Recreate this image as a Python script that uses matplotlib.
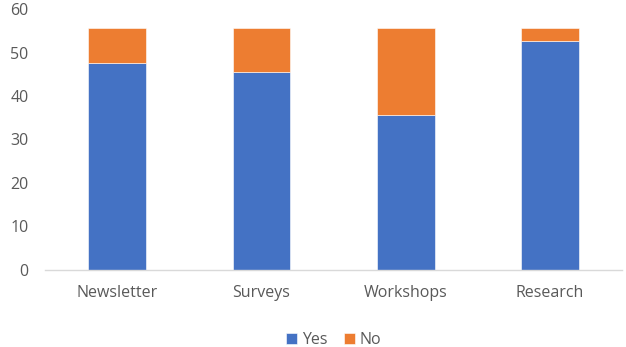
import matplotlib
matplotlib.use('Agg')
import matplotlib.pyplot as plt
import numpy as np

plt.rcParams['font.family'] = ['Open Sans', 'DejaVu Sans']

categories = ['Newsletter', 'Surveys', 'Workshops', 'Research']
yes_vals = [47.6, 45.6, 35.6, 52.6]
no_vals = [8.0, 10.0, 20.0, 3.0]

blue = '#4472C4'
orange = '#ED7D31'
text_col = '#595959'

fig = plt.figure(figsize=(6.26, 3.47), dpi=100)
ax = fig.add_axes([0.072, 0.222, 0.922, 0.752])

x = np.arange(len(categories))
ax.bar(x, yes_vals, width=0.4, color=blue, label='Yes', edgecolor='white', linewidth=0.4)
ax.bar(x, no_vals, width=0.4, bottom=yes_vals, color=orange, label='No',
       edgecolor='white', linewidth=0.4)

ax.set_xlim(-0.5, 3.5)
ax.set_ylim(0, 60)
ax.set_yticks(range(0, 61, 10))
ax.set_xticks(x)
ax.set_xticklabels(categories)

for s in ['top', 'right', 'left']:
    ax.spines[s].set_visible(False)
ax.spines['bottom'].set_color('#D9D9D9')
ax.spines['bottom'].set_linewidth(1)
ax.tick_params(length=0, colors=text_col, labelsize=11.5)
ax.tick_params(axis='x', pad=11)
ax.tick_params(axis='y', pad=12)

ax.legend(loc='lower center', bbox_to_anchor=(0.5, -0.335), ncol=2, frameon=False,
          fontsize=11.5, handlelength=0.7, handleheight=0.7, handletextpad=0.3,
          columnspacing=1.0, labelcolor=text_col, borderaxespad=0.2)

fig.savefig('out.png', dpi=100, facecolor='white')
